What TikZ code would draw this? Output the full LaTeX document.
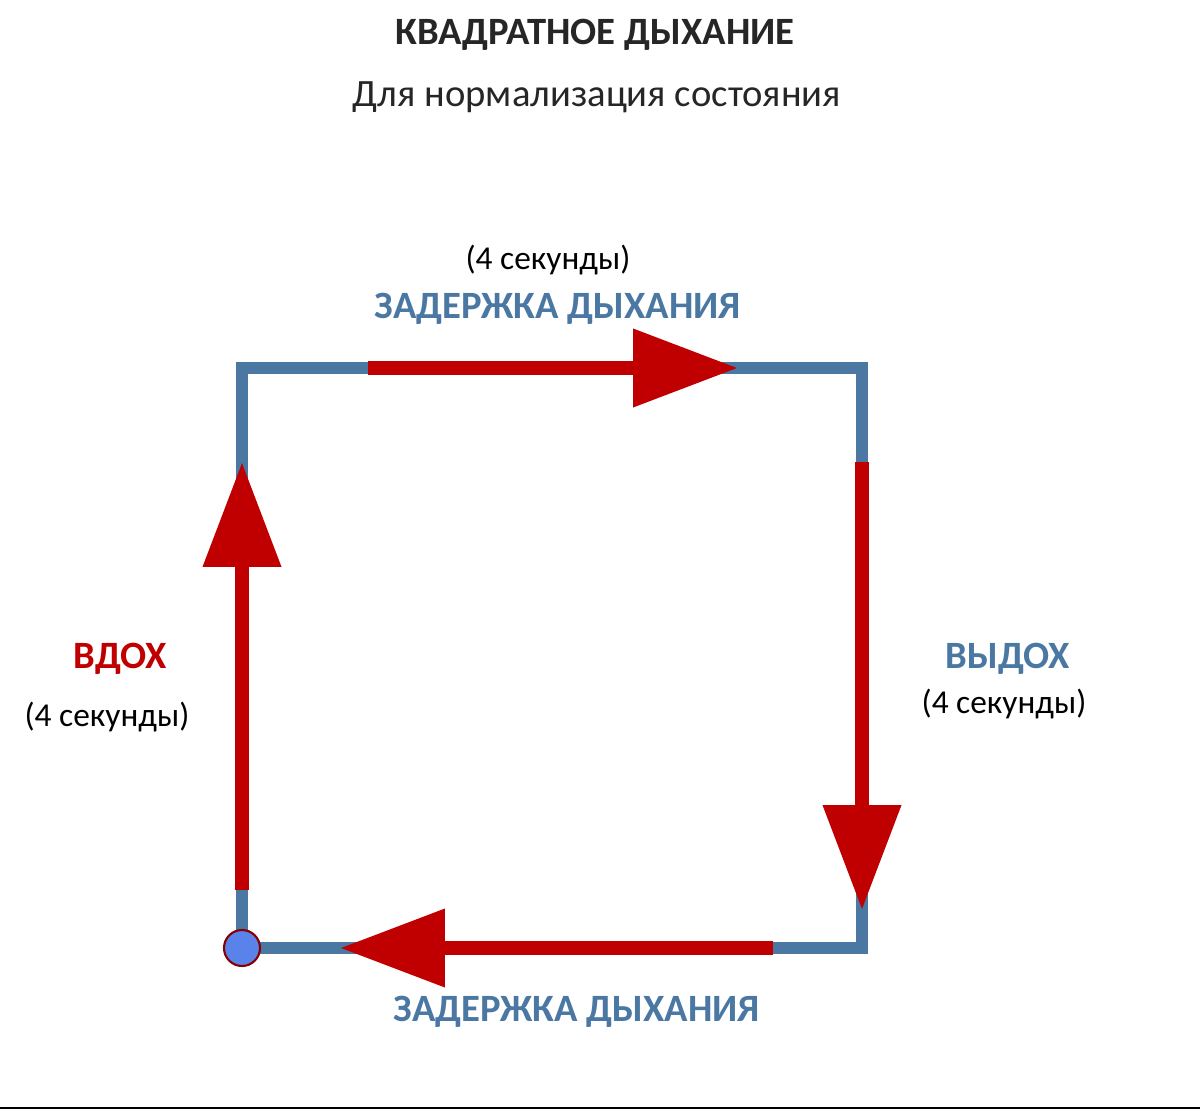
\documentclass[tikz,border=0pt]{standalone}
\usepackage{fontspec}
\setmainfont{Carlito}
\usetikzlibrary{arrows.meta, positioning}
\definecolor{sqblue}{RGB}{74,120,162}
\definecolor{arred}{RGB}{192,0,0}
\definecolor{dotblue}{RGB}{90,130,235}
\begin{document}
\begin{tikzpicture}[
        x=0.02cm, y=-0.02cm,
        frame/.style = {draw=sqblue, line width=0.24cm, line join=miter},
        stroke/.style = {draw=arred, line width=0.28cm, -{Triangle[length=2.1cm, width=1.5cm]}},
        phase/.style = {font=\bfseries\fontsize{22}{24}\selectfont, text=sqblue},
        dur/.style = {font=\fontsize{19}{21}\selectfont}
    ]
    \useasboundingbox (0,0) rectangle (1200,1112);

    % corners of the square
    \coordinate (tl) at (242,368);
    \coordinate (tr) at (862,368);
    \coordinate (br) at (862,948);
    \coordinate (bl) at (242,948);
    \draw[frame] (tl) -- (tr) -- (br) -- (bl) -- cycle;

    % the four phases
    \draw[stroke] (368,368) -- (738,368);
    \draw[stroke] (862,462) -- (862,910);
    \draw[stroke] (773,948) -- (340,948);
    \draw[stroke] (242,890) -- (242,462);

    \node[circle, draw=arred!70!black, fill=dotblue, line width=1.2pt, minimum size=0.72cm, inner sep=0pt] (start) at (bl) {};

    \node[font=\bfseries\fontsize{22}{24}\selectfont, text=black!85] (title) at (595,35) {КВАДРАТНОЕ ДЫХАНИЕ};
    \node[font=\fontsize{22}{24}\selectfont, text=black!85] (subtitle) at (597,97) {Для нормализация состояния};

    \node[dur] (topdur) at (548,260) {(4 секунды)};
    \node[phase] (toplabel) at (558,309) {ЗАДЕРЖКА ДЫХАНИЯ};
    \node[phase] (botlabel) at (577,1012) {ЗАДЕРЖКА ДЫХАНИЯ};
    \node[phase, text=arred] (inhale) at (120,659) {ВДОХ};
    \node[dur] (indur) at (107,717) {(4 секунды)};
    \node[phase] (exhale) at (1008,659) {ВЫДОХ};
    \node[dur] (exdur) at (1004,704) {(4 секунды)};

    \draw[line width=0.04cm] (0,1108) -- (1200,1108);
\end{tikzpicture}
\end{document}
